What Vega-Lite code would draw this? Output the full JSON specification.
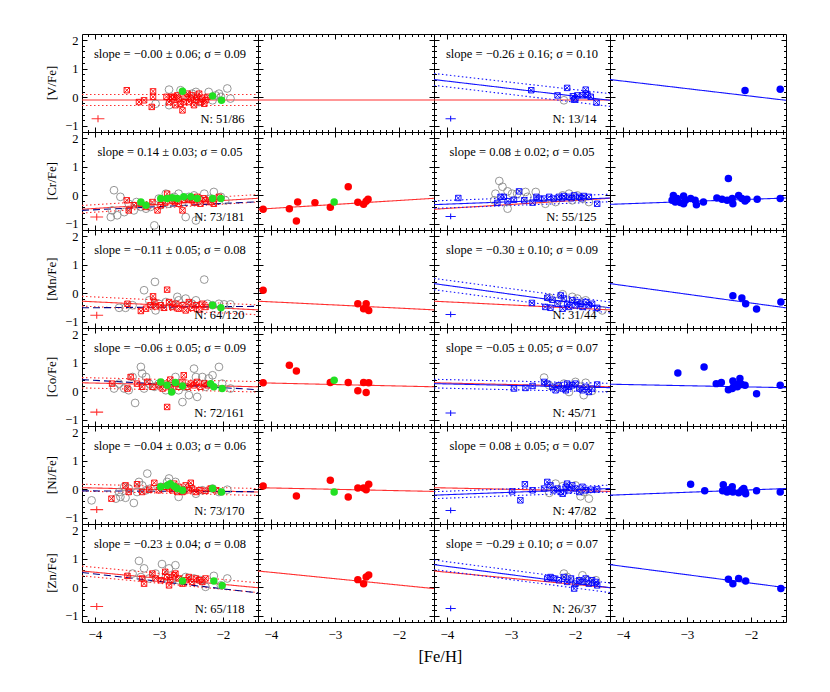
{
  "$schema": "https://vega.github.io/schema/vega-lite/v6.json",
  "padding": {"left": 45, "top": 33, "right": 5, "bottom": 5},
  "data": {"values": [
    {"r":"V","c":1,"t":"l","g":"rb","x":-4.2,"y":0.1,"x2":-1.45,"y2":0.1},
    {"r":"V","c":1,"t":"l","g":"rb","x":-4.2,"y":-0.28,"x2":-1.45,"y2":-0.28},
    {"r":"V","c":1,"t":"l","g":"rf","x":-4.2,"y":-0.09,"x2":-1.45,"y2":-0.09},
    {"r":"V","c":1,"t":"l","g":"rf","x":-4.05,"y":-0.74,"x2":-3.85,"y2":-0.74},
    {"r":"V","c":1,"t":"l","g":"rf","x":-3.95,"y":-0.86,"x2":-3.95,"y2":-0.62},
    {"r":"V","c":1,"t":"s","x":-2.825,"y":1.37,"s":"slope = −0.00 ± 0.06; σ = 0.09"},
    {"r":"V","c":1,"t":"n","x":-1.66,"y":-0.9,"s":"N: 51/86"},
    {"r":"V","c":1,"t":"p","g":"grey","x":-2.84,"y":0.27},
    {"r":"V","c":1,"t":"p","g":"grey","x":-2.66,"y":0.25},
    {"r":"V","c":1,"t":"p","g":"grey","x":-2.48,"y":0.13},
    {"r":"V","c":1,"t":"p","g":"grey","x":-2.06,"y":0.13},
    {"r":"V","c":1,"t":"p","g":"grey","x":-1.93,"y":0.31},
    {"r":"V","c":1,"t":"p","g":"grey","x":-1.88,"y":-0.04},
    {"r":"V","c":1,"t":"p","g":"grey","x":-2.03,"y":0.02},
    {"r":"V","c":1,"t":"p","g":"grey","x":-2.16,"y":-0.1},
    {"r":"V","c":1,"t":"p","g":"grey","x":-2.11,"y":0.07},
    {"r":"V","c":1,"t":"p","g":"grey","x":-3.05,"y":-0.22},
    {"r":"V","c":1,"t":"p","g":"grey","x":-2.84,"y":-0.27},
    {"r":"V","c":1,"t":"p","g":"grey","x":-2.42,"y":0.19},
    {"r":"V","c":1,"t":"p","g":"grey","x":-2.22,"y":0.19},
    {"r":"V","c":1,"t":"p","g":"grey","x":-2.61,"y":0.07},
    {"r":"V","c":1,"t":"p","g":"grey","x":-2.37,"y":-0.16},
    {"r":"V","c":1,"t":"p","g":"rx","x":-3.5,"y":0.25},
    {"r":"V","c":1,"t":"p","g":"rx","x":-3.31,"y":-0.16},
    {"r":"V","c":1,"t":"p","g":"rx","x":-3.23,"y":-0.1},
    {"r":"V","c":1,"t":"p","g":"rx","x":-3.09,"y":0.21},
    {"r":"V","c":1,"t":"p","g":"rx","x":-3.09,"y":0.02},
    {"r":"V","c":1,"t":"p","g":"rx","x":-3.11,"y":-0.33},
    {"r":"V","c":1,"t":"p","g":"rx","x":-2.88,"y":0.02},
    {"r":"V","c":1,"t":"p","g":"rx","x":-2.84,"y":-0.16},
    {"r":"V","c":1,"t":"p","g":"rx","x":-2.79,"y":-0.04},
    {"r":"V","c":1,"t":"p","g":"rx","x":-2.74,"y":-0.27},
    {"r":"V","c":1,"t":"p","g":"rx","x":-2.63,"y":-0.45},
    {"r":"V","c":1,"t":"p","g":"rx","x":-2.69,"y":-0.04},
    {"r":"V","c":1,"t":"p","g":"rx","x":-2.58,"y":0.02},
    {"r":"V","c":1,"t":"p","g":"rx","x":-2.53,"y":-0.16},
    {"r":"V","c":1,"t":"p","g":"rx","x":-2.48,"y":0.07},
    {"r":"V","c":1,"t":"p","g":"rx","x":-2.42,"y":-0.1},
    {"r":"V","c":1,"t":"p","g":"rx","x":-2.37,"y":0.13},
    {"r":"V","c":1,"t":"p","g":"rx","x":-2.32,"y":-0.04},
    {"r":"V","c":1,"t":"p","g":"rx","x":-2.29,"y":-0.22},
    {"r":"V","c":1,"t":"p","g":"rx","x":-2.24,"y":0.02},
    {"r":"V","c":1,"t":"p","g":"rx","x":-2.35,"y":-0.16},
    {"r":"V","c":1,"t":"p","g":"rx","x":-2.45,"y":-0.27},
    {"r":"V","c":1,"t":"p","g":"rx","x":-2.4,"y":0.02},
    {"r":"V","c":1,"t":"p","g":"rx","x":-2.5,"y":-0.04},
    {"r":"V","c":1,"t":"p","g":"rx","x":-2.61,"y":-0.16},
    {"r":"V","c":1,"t":"p","g":"rx","x":-2.66,"y":-0.22},
    {"r":"V","c":1,"t":"p","g":"rx","x":-2.55,"y":0.13},
    {"r":"V","c":1,"t":"p","g":"rx","x":-2.27,"y":-0.1},
    {"r":"V","c":1,"t":"p","g":"rx","x":-2.71,"y":0.07},
    {"r":"V","c":1,"t":"p","g":"rx","x":-2.76,"y":0.02},
    {"r":"V","c":1,"t":"p","g":"rx","x":-2.81,"y":0.02},
    {"r":"V","c":1,"t":"p","g":"green","x":-2.63,"y":0.21},
    {"r":"V","c":1,"t":"p","g":"green","x":-2.16,"y":0.05},
    {"r":"V","c":1,"t":"p","g":"green","x":-2.02,"y":-0.1},

    {"r":"V","c":2,"t":"l","g":"rf","x":-4.2,"y":-0.09,"x2":-1.45,"y2":-0.09},

    {"r":"V","c":3,"t":"l","g":"rf","x":-4.2,"y":-0.09,"x2":-1.45,"y2":-0.09},
    {"r":"V","c":3,"t":"l","g":"bb","x":-4.2,"y":0.83,"x2":-1.45,"y2":0.13},
    {"r":"V","c":3,"t":"l","g":"bb","x":-4.2,"y":0.42,"x2":-1.45,"y2":-0.31},
    {"r":"V","c":3,"t":"l","g":"bf","x":-4.2,"y":0.62,"x2":-1.45,"y2":-0.1},
    {"r":"V","c":3,"t":"l","g":"bf","x":-4.02,"y":-0.74,"x2":-3.86,"y2":-0.74},
    {"r":"V","c":3,"t":"l","g":"bf","x":-3.94,"y":-0.84,"x2":-3.94,"y2":-0.64},
    {"r":"V","c":3,"t":"s","x":-2.825,"y":1.37,"s":"slope = −0.26 ± 0.16; σ = 0.10"},
    {"r":"V","c":3,"t":"n","x":-1.66,"y":-0.9,"s":"N: 13/14"},
    {"r":"V","c":3,"t":"p","g":"grey","x":-2.17,"y":-0.1},
    {"r":"V","c":3,"t":"p","g":"bx","x":-2.68,"y":0.25},
    {"r":"V","c":3,"t":"p","g":"bx","x":-2.27,"y":0.07},
    {"r":"V","c":3,"t":"p","g":"bx","x":-2.12,"y":0.33},
    {"r":"V","c":3,"t":"p","g":"bx","x":-2.03,"y":0.04},
    {"r":"V","c":3,"t":"p","g":"bx","x":-1.99,"y":-0.04},
    {"r":"V","c":3,"t":"p","g":"bx","x":-1.88,"y":0.07},
    {"r":"V","c":3,"t":"p","g":"bx","x":-1.83,"y":0.27},
    {"r":"V","c":3,"t":"p","g":"bx","x":-1.8,"y":0.07},
    {"r":"V","c":3,"t":"p","g":"bx","x":-1.75,"y":0.02},
    {"r":"V","c":3,"t":"p","g":"bx","x":-1.66,"y":-0.18},
    {"r":"V","c":3,"t":"p","g":"bx","x":-1.96,"y":0.07},
    {"r":"V","c":3,"t":"p","g":"bx","x":-1.83,"y":0.13},
    {"r":"V","c":3,"t":"p","g":"bx","x":-2.01,"y":-0.08},

    {"r":"V","c":4,"t":"l","g":"bf","x":-4.2,"y":0.62,"x2":-1.45,"y2":-0.1},
    {"r":"V","c":4,"t":"p","g":"bd","x":-2.09,"y":0.24},
    {"r":"V","c":4,"t":"p","g":"bd","x":-1.54,"y":0.28},

    {"r":"Cr","c":1,"t":"l","g":"rb","x":-4.2,"y":-0.35,"x2":-1.45,"y2":0.03},
    {"r":"Cr","c":1,"t":"l","g":"rb","x":-4.2,"y":-0.61,"x2":-1.45,"y2":-0.23},
    {"r":"Cr","c":1,"t":"l","g":"rf","x":-4.2,"y":-0.48,"x2":-1.45,"y2":-0.1},
    {"r":"Cr","c":1,"t":"l","g":"nv","x":-4.2,"y":-0.52,"x2":-1.45,"y2":-0.22},
    {"r":"Cr","c":1,"t":"l","g":"rf","x":-4.07,"y":-0.75,"x2":-3.87,"y2":-0.75},
    {"r":"Cr","c":1,"t":"l","g":"rf","x":-3.97,"y":-0.87,"x2":-3.97,"y2":-0.63},
    {"r":"Cr","c":1,"t":"s","x":-2.825,"y":1.37,"s":"slope = 0.14 ± 0.03; σ = 0.05"},
    {"r":"Cr","c":1,"t":"n","x":-1.66,"y":-0.9,"s":"N: 73/181"},
    {"r":"Cr","c":1,"t":"p","g":"grey","x":-3.7,"y":0.18},
    {"r":"Cr","c":1,"t":"p","g":"grey","x":-3.6,"y":-0.05},
    {"r":"Cr","c":1,"t":"p","g":"grey","x":-3.73,"y":-0.52},
    {"r":"Cr","c":1,"t":"p","g":"grey","x":-3.75,"y":-0.75},
    {"r":"Cr","c":1,"t":"p","g":"grey","x":-3.65,"y":-0.69},
    {"r":"Cr","c":1,"t":"p","g":"grey","x":-3.54,"y":-0.58},
    {"r":"Cr","c":1,"t":"p","g":"grey","x":-3.47,"y":-0.29},
    {"r":"Cr","c":1,"t":"p","g":"grey","x":-3.39,"y":-0.52},
    {"r":"Cr","c":1,"t":"p","g":"grey","x":-3.2,"y":-0.46},
    {"r":"Cr","c":1,"t":"p","g":"grey","x":-3.13,"y":-0.4},
    {"r":"Cr","c":1,"t":"p","g":"grey","x":-3.07,"y":-1.04},
    {"r":"Cr","c":1,"t":"p","g":"grey","x":-3.0,"y":-0.11},
    {"r":"Cr","c":1,"t":"p","g":"grey","x":-2.89,"y":0.06},
    {"r":"Cr","c":1,"t":"p","g":"grey","x":-2.84,"y":-0.29},
    {"r":"Cr","c":1,"t":"p","g":"grey","x":-2.76,"y":-0.05},
    {"r":"Cr","c":1,"t":"p","g":"grey","x":-2.69,"y":0.06},
    {"r":"Cr","c":1,"t":"p","g":"grey","x":-2.58,"y":-0.75},
    {"r":"Cr","c":1,"t":"p","g":"grey","x":-2.53,"y":-0.05},
    {"r":"Cr","c":1,"t":"p","g":"grey","x":-2.42,"y":-0.87},
    {"r":"Cr","c":1,"t":"p","g":"grey","x":-2.45,"y":0.0},
    {"r":"Cr","c":1,"t":"p","g":"grey","x":-2.29,"y":0.06},
    {"r":"Cr","c":1,"t":"p","g":"grey","x":-2.14,"y":0.12},
    {"r":"Cr","c":1,"t":"p","g":"grey","x":-2.19,"y":-0.11},
    {"r":"Cr","c":1,"t":"p","g":"grey","x":-2.03,"y":-0.05},
    {"r":"Cr","c":1,"t":"p","g":"grey","x":-1.96,"y":-0.17},
    {"r":"Cr","c":1,"t":"p","g":"grey","x":-3.28,"y":-0.4},
    {"r":"Cr","c":1,"t":"p","g":"grey","x":-2.97,"y":-0.34},
    {"r":"Cr","c":1,"t":"p","g":"grey","x":-2.63,"y":-0.23},
    {"r":"Cr","c":1,"t":"p","g":"grey","x":-2.35,"y":-0.17},
    {"r":"Cr","c":1,"t":"p","g":"grey","x":-3.35,"y":-0.23},
    {"r":"Cr","c":1,"t":"p","g":"rx","x":-3.5,"y":-0.17},
    {"r":"Cr","c":1,"t":"p","g":"rx","x":-3.39,"y":-0.34},
    {"r":"Cr","c":1,"t":"p","g":"rx","x":-3.28,"y":-0.29},
    {"r":"Cr","c":1,"t":"p","g":"rx","x":-3.2,"y":-0.4},
    {"r":"Cr","c":1,"t":"p","g":"rx","x":-3.1,"y":-0.23},
    {"r":"Cr","c":1,"t":"p","g":"rx","x":-2.97,"y":-0.34},
    {"r":"Cr","c":1,"t":"p","g":"rx","x":-2.87,"y":0.06},
    {"r":"Cr","c":1,"t":"p","g":"rx","x":-2.79,"y":-0.17},
    {"r":"Cr","c":1,"t":"p","g":"rx","x":-2.69,"y":-0.29},
    {"r":"Cr","c":1,"t":"p","g":"rx","x":-2.63,"y":-0.52},
    {"r":"Cr","c":1,"t":"p","g":"rx","x":-2.55,"y":-0.11},
    {"r":"Cr","c":1,"t":"p","g":"rx","x":-2.48,"y":-0.17},
    {"r":"Cr","c":1,"t":"p","g":"rx","x":-2.4,"y":-0.05},
    {"r":"Cr","c":1,"t":"p","g":"rx","x":-2.35,"y":-0.29},
    {"r":"Cr","c":1,"t":"p","g":"rx","x":-2.27,"y":-0.17},
    {"r":"Cr","c":1,"t":"p","g":"rx","x":-2.19,"y":-0.23},
    {"r":"Cr","c":1,"t":"p","g":"rx","x":-2.14,"y":-0.29},
    {"r":"Cr","c":1,"t":"p","g":"rx","x":-2.06,"y":-0.05},
    {"r":"Cr","c":1,"t":"p","g":"rx","x":-3.02,"y":-0.52},
    {"r":"Cr","c":1,"t":"p","g":"rx","x":-3.47,"y":-0.52},
    {"r":"Cr","c":1,"t":"p","g":"rx","x":-2.6,"y":-0.15},
    {"r":"Cr","c":1,"t":"p","g":"rx","x":-2.45,"y":-0.25},
    {"r":"Cr","c":1,"t":"p","g":"rx","x":-2.75,"y":-0.23},
    {"r":"Cr","c":1,"t":"p","g":"rx","x":-2.3,"y":-0.1},
    {"r":"Cr","c":1,"t":"p","g":"rx","x":-2.9,"y":-0.25},
    {"r":"Cr","c":1,"t":"p","g":"green","x":-3.28,"y":-0.23},
    {"r":"Cr","c":1,"t":"p","g":"green","x":-2.97,"y":-0.11},
    {"r":"Cr","c":1,"t":"p","g":"green","x":-2.87,"y":-0.11},
    {"r":"Cr","c":1,"t":"p","g":"green","x":-2.79,"y":-0.08},
    {"r":"Cr","c":1,"t":"p","g":"green","x":-2.71,"y":-0.11},
    {"r":"Cr","c":1,"t":"p","g":"green","x":-2.61,"y":-0.05},
    {"r":"Cr","c":1,"t":"p","g":"green","x":-2.5,"y":-0.05},
    {"r":"Cr","c":1,"t":"p","g":"green","x":-2.4,"y":-0.11},
    {"r":"Cr","c":1,"t":"p","g":"green","x":-2.16,"y":-0.11},
    {"r":"Cr","c":1,"t":"p","g":"green","x":-2.03,"y":-0.11},
    {"r":"Cr","c":1,"t":"p","g":"green","x":-3.2,"y":-0.34},

    {"r":"Cr","c":2,"t":"l","g":"rf","x":-4.2,"y":-0.48,"x2":-1.45,"y2":-0.1},
    {"r":"Cr","c":2,"t":"p","g":"rd","x":-4.12,"y":-0.48},
    {"r":"Cr","c":2,"t":"p","g":"rd","x":-3.71,"y":-0.46},
    {"r":"Cr","c":2,"t":"p","g":"rd","x":-3.6,"y":-0.89},
    {"r":"Cr","c":2,"t":"p","g":"rd","x":-3.58,"y":-0.23},
    {"r":"Cr","c":2,"t":"p","g":"rd","x":-3.31,"y":-0.25},
    {"r":"Cr","c":2,"t":"p","g":"rd","x":-3.07,"y":-0.41},
    {"r":"Cr","c":2,"t":"p","g":"rd","x":-2.79,"y":0.3},
    {"r":"Cr","c":2,"t":"p","g":"rd","x":-2.64,"y":-0.24},
    {"r":"Cr","c":2,"t":"p","g":"rd","x":-2.55,"y":-0.31},
    {"r":"Cr","c":2,"t":"p","g":"rd","x":-2.51,"y":-0.2},
    {"r":"Cr","c":2,"t":"p","g":"rd","x":-2.48,"y":-0.13},
    {"r":"Cr","c":2,"t":"p","g":"green","x":-3.01,"y":-0.23},

    {"r":"Cr","c":3,"t":"l","g":"rf","x":-4.2,"y":-0.48,"x2":-1.45,"y2":-0.1},
    {"r":"Cr","c":3,"t":"l","g":"bb","x":-4.2,"y":-0.19,"x2":-1.45,"y2":0.04},
    {"r":"Cr","c":3,"t":"l","g":"bb","x":-4.2,"y":-0.45,"x2":-1.45,"y2":-0.22},
    {"r":"Cr","c":3,"t":"l","g":"bf","x":-4.2,"y":-0.32,"x2":-1.45,"y2":-0.09},
    {"r":"Cr","c":3,"t":"l","g":"bf","x":-4.02,"y":-0.73,"x2":-3.86,"y2":-0.73},
    {"r":"Cr","c":3,"t":"l","g":"bf","x":-3.94,"y":-0.83,"x2":-3.94,"y2":-0.63},
    {"r":"Cr","c":3,"t":"s","x":-2.825,"y":1.37,"s":"slope = 0.08 ± 0.02; σ = 0.05"},
    {"r":"Cr","c":3,"t":"n","x":-1.66,"y":-0.9,"s":"N: 55/125"},
    {"r":"Cr","c":3,"t":"p","g":"grey","x":-3.18,"y":0.5},
    {"r":"Cr","c":3,"t":"p","g":"grey","x":-3.24,"y":0.06},
    {"r":"Cr","c":3,"t":"p","g":"grey","x":-3.26,"y":-0.17},
    {"r":"Cr","c":3,"t":"p","g":"grey","x":-3.13,"y":0.3},
    {"r":"Cr","c":3,"t":"p","g":"grey","x":-3.05,"y":0.14},
    {"r":"Cr","c":3,"t":"p","g":"grey","x":-2.98,"y":0.06},
    {"r":"Cr","c":3,"t":"p","g":"grey","x":-3.05,"y":-0.46},
    {"r":"Cr","c":3,"t":"p","g":"grey","x":-2.9,"y":0.06},
    {"r":"Cr","c":3,"t":"p","g":"grey","x":-2.77,"y":0.12},
    {"r":"Cr","c":3,"t":"p","g":"grey","x":-2.74,"y":-0.05},
    {"r":"Cr","c":3,"t":"p","g":"grey","x":-2.61,"y":0.12},
    {"r":"Cr","c":3,"t":"p","g":"grey","x":-2.46,"y":-0.29},
    {"r":"Cr","c":3,"t":"p","g":"grey","x":-2.3,"y":-0.23},
    {"r":"Cr","c":3,"t":"p","g":"grey","x":-2.19,"y":0.0},
    {"r":"Cr","c":3,"t":"p","g":"grey","x":-2.09,"y":0.06},
    {"r":"Cr","c":3,"t":"p","g":"grey","x":-1.96,"y":0.0},
    {"r":"Cr","c":3,"t":"p","g":"grey","x":-1.88,"y":-0.11},
    {"r":"Cr","c":3,"t":"p","g":"grey","x":-1.78,"y":-0.23},
    {"r":"Cr","c":3,"t":"p","g":"grey","x":-2.04,"y":-0.17},
    {"r":"Cr","c":3,"t":"p","g":"bx","x":-3.82,"y":-0.09},
    {"r":"Cr","c":3,"t":"p","g":"bx","x":-3.21,"y":-0.26},
    {"r":"Cr","c":3,"t":"p","g":"bx","x":-3.11,"y":-0.05},
    {"r":"Cr","c":3,"t":"p","g":"bx","x":-2.87,"y":0.14},
    {"r":"Cr","c":3,"t":"p","g":"bx","x":-2.95,"y":-0.15},
    {"r":"Cr","c":3,"t":"p","g":"bx","x":-2.79,"y":-0.17},
    {"r":"Cr","c":3,"t":"p","g":"bx","x":-2.66,"y":-0.25},
    {"r":"Cr","c":3,"t":"p","g":"bx","x":-2.48,"y":-0.11},
    {"r":"Cr","c":3,"t":"p","g":"bx","x":-2.4,"y":-0.05},
    {"r":"Cr","c":3,"t":"p","g":"bx","x":-2.33,"y":-0.11},
    {"r":"Cr","c":3,"t":"p","g":"bx","x":-2.25,"y":-0.05},
    {"r":"Cr","c":3,"t":"p","g":"bx","x":-2.17,"y":-0.02},
    {"r":"Cr","c":3,"t":"p","g":"bx","x":-2.09,"y":-0.05},
    {"r":"Cr","c":3,"t":"p","g":"bx","x":-2.01,"y":0.0},
    {"r":"Cr","c":3,"t":"p","g":"bx","x":-1.93,"y":-0.05},
    {"r":"Cr","c":3,"t":"p","g":"bx","x":-1.86,"y":-0.02},
    {"r":"Cr","c":3,"t":"p","g":"bx","x":-1.78,"y":-0.05},
    {"r":"Cr","c":3,"t":"p","g":"bx","x":-1.65,"y":-0.29},
    {"r":"Cr","c":3,"t":"p","g":"bx","x":-2.56,"y":-0.11},
    {"r":"Cr","c":3,"t":"p","g":"bx","x":-3.16,"y":-0.05},
    {"r":"Cr","c":3,"t":"p","g":"bx","x":-2.2,"y":-0.1},
    {"r":"Cr","c":3,"t":"p","g":"bx","x":-2.05,"y":-0.1},
    {"r":"Cr","c":3,"t":"p","g":"bx","x":-1.9,"y":-0.1},
    {"r":"Cr","c":3,"t":"p","g":"bx","x":-2.6,"y":-0.05},
    {"r":"Cr","c":3,"t":"p","g":"bx","x":-3.05,"y":-0.2},

    {"r":"Cr","c":4,"t":"l","g":"bf","x":-4.2,"y":-0.31,"x2":-1.45,"y2":-0.09},
    {"r":"Cr","c":4,"t":"p","g":"bd","x":-3.21,"y":0.0},
    {"r":"Cr","c":4,"t":"p","g":"bd","x":-3.23,"y":-0.17},
    {"r":"Cr","c":4,"t":"p","g":"bd","x":-3.18,"y":-0.23},
    {"r":"Cr","c":4,"t":"p","g":"bd","x":-3.05,"y":-0.02},
    {"r":"Cr","c":4,"t":"p","g":"bd","x":-3.05,"y":-0.29},
    {"r":"Cr","c":4,"t":"p","g":"bd","x":-2.94,"y":-0.11},
    {"r":"Cr","c":4,"t":"p","g":"bd","x":-2.87,"y":-0.17},
    {"r":"Cr","c":4,"t":"p","g":"bd","x":-2.85,"y":-0.32},
    {"r":"Cr","c":4,"t":"p","g":"bd","x":-2.74,"y":-0.23},
    {"r":"Cr","c":4,"t":"p","g":"bd","x":-2.53,"y":-0.09},
    {"r":"Cr","c":4,"t":"p","g":"bd","x":-2.45,"y":-0.13},
    {"r":"Cr","c":4,"t":"p","g":"bd","x":-2.37,"y":-0.17},
    {"r":"Cr","c":4,"t":"p","g":"bd","x":-2.35,"y":0.59},
    {"r":"Cr","c":4,"t":"p","g":"bd","x":-2.29,"y":-0.11},
    {"r":"Cr","c":4,"t":"p","g":"bd","x":-2.28,"y":-0.29},
    {"r":"Cr","c":4,"t":"p","g":"bd","x":-2.19,"y":0.0},
    {"r":"Cr","c":4,"t":"p","g":"bd","x":-2.14,"y":-0.11},
    {"r":"Cr","c":4,"t":"p","g":"bd","x":-2.09,"y":-0.19},
    {"r":"Cr","c":4,"t":"p","g":"bd","x":-2.06,"y":-0.13},
    {"r":"Cr","c":4,"t":"p","g":"bd","x":-1.9,"y":-0.13},
    {"r":"Cr","c":4,"t":"p","g":"bd","x":-1.54,"y":-0.11},
    {"r":"Cr","c":4,"t":"p","g":"bd","x":-3.02,"y":-0.17},
    {"r":"Cr","c":4,"t":"p","g":"bd","x":-3.15,"y":-0.11},
    {"r":"Cr","c":4,"t":"p","g":"bd","x":-3.1,"y":-0.25},

    {"r":"Mn","c":1,"t":"l","g":"rb","x":-4.2,"y":-0.1,"x2":-1.45,"y2":-0.4},
    {"r":"Mn","c":1,"t":"l","g":"rb","x":-4.2,"y":-0.44,"x2":-1.45,"y2":-0.74},
    {"r":"Mn","c":1,"t":"l","g":"rf","x":-4.2,"y":-0.27,"x2":-1.45,"y2":-0.57},
    {"r":"Mn","c":1,"t":"l","g":"nv","x":-4.2,"y":-0.5,"x2":-1.45,"y2":-0.45},
    {"r":"Mn","c":1,"t":"l","g":"rf","x":-4.07,"y":-0.76,"x2":-3.87,"y2":-0.76},
    {"r":"Mn","c":1,"t":"l","g":"rf","x":-3.97,"y":-0.88,"x2":-3.97,"y2":-0.64},
    {"r":"Mn","c":1,"t":"s","x":-2.825,"y":1.37,"s":"slope = −0.11 ± 0.05; σ = 0.08"},
    {"r":"Mn","c":1,"t":"n","x":-1.66,"y":-0.9,"s":"N: 64/120"},
    {"r":"Mn","c":1,"t":"p","g":"grey","x":-3.62,"y":-0.5},
    {"r":"Mn","c":1,"t":"p","g":"grey","x":-3.23,"y":0.11},
    {"r":"Mn","c":1,"t":"p","g":"grey","x":-3.06,"y":0.4},
    {"r":"Mn","c":1,"t":"p","g":"grey","x":-3.15,"y":-0.24},
    {"r":"Mn","c":1,"t":"p","g":"grey","x":-3.0,"y":-0.36},
    {"r":"Mn","c":1,"t":"p","g":"grey","x":-2.89,"y":-0.3},
    {"r":"Mn","c":1,"t":"p","g":"grey","x":-2.79,"y":-0.41},
    {"r":"Mn","c":1,"t":"p","g":"grey","x":-2.71,"y":-0.12},
    {"r":"Mn","c":1,"t":"p","g":"grey","x":-2.69,"y":-0.24},
    {"r":"Mn","c":1,"t":"p","g":"grey","x":-2.58,"y":-0.18},
    {"r":"Mn","c":1,"t":"p","g":"grey","x":-2.48,"y":-0.36},
    {"r":"Mn","c":1,"t":"p","g":"grey","x":-2.42,"y":-0.24},
    {"r":"Mn","c":1,"t":"p","g":"grey","x":-2.29,"y":0.48},
    {"r":"Mn","c":1,"t":"p","g":"grey","x":-2.24,"y":-0.36},
    {"r":"Mn","c":1,"t":"p","g":"grey","x":-2.16,"y":-0.41},
    {"r":"Mn","c":1,"t":"p","g":"grey","x":-2.06,"y":-0.36},
    {"r":"Mn","c":1,"t":"p","g":"grey","x":-1.98,"y":-0.38},
    {"r":"Mn","c":1,"t":"p","g":"grey","x":-1.88,"y":-0.38},
    {"r":"Mn","c":1,"t":"p","g":"grey","x":-3.05,"y":-0.59},
    {"r":"Mn","c":1,"t":"p","g":"grey","x":-3.41,"y":-0.41},
    {"r":"Mn","c":1,"t":"p","g":"grey","x":-3.52,"y":-0.5},
    {"r":"Mn","c":1,"t":"p","g":"rx","x":-3.49,"y":-0.36},
    {"r":"Mn","c":1,"t":"p","g":"rx","x":-3.28,"y":-0.61},
    {"r":"Mn","c":1,"t":"p","g":"rx","x":-3.2,"y":-0.53},
    {"r":"Mn","c":1,"t":"p","g":"rx","x":-3.09,"y":-0.1},
    {"r":"Mn","c":1,"t":"p","g":"rx","x":-3.07,"y":-0.3},
    {"r":"Mn","c":1,"t":"p","g":"rx","x":-2.87,"y":0.13},
    {"r":"Mn","c":1,"t":"p","g":"rx","x":-2.84,"y":-0.3},
    {"r":"Mn","c":1,"t":"p","g":"rx","x":-2.79,"y":-0.47},
    {"r":"Mn","c":1,"t":"p","g":"rx","x":-2.74,"y":-0.36},
    {"r":"Mn","c":1,"t":"p","g":"rx","x":-2.69,"y":-0.53},
    {"r":"Mn","c":1,"t":"p","g":"rx","x":-2.63,"y":-0.41},
    {"r":"Mn","c":1,"t":"p","g":"rx","x":-2.58,"y":-0.59},
    {"r":"Mn","c":1,"t":"p","g":"rx","x":-2.53,"y":-0.3},
    {"r":"Mn","c":1,"t":"p","g":"rx","x":-2.48,"y":-0.5},
    {"r":"Mn","c":1,"t":"p","g":"rx","x":-2.42,"y":-0.41},
    {"r":"Mn","c":1,"t":"p","g":"rx","x":-2.37,"y":-0.56},
    {"r":"Mn","c":1,"t":"p","g":"rx","x":-2.32,"y":-0.36},
    {"r":"Mn","c":1,"t":"p","g":"rx","x":-2.27,"y":-0.47},
    {"r":"Mn","c":1,"t":"p","g":"rx","x":-2.97,"y":-0.41},
    {"r":"Mn","c":1,"t":"p","g":"rx","x":-2.92,"y":-0.5},
    {"r":"Mn","c":1,"t":"p","g":"rx","x":-3.05,"y":-0.45},
    {"r":"Mn","c":1,"t":"p","g":"rx","x":-3.13,"y":-0.41},
    {"r":"Mn","c":1,"t":"p","g":"green","x":-2.16,"y":-0.41},
    {"r":"Mn","c":1,"t":"p","g":"green","x":-2.03,"y":-0.5},

    {"r":"Mn","c":2,"t":"l","g":"rf","x":-4.2,"y":-0.27,"x2":-1.45,"y2":-0.57},
    {"r":"Mn","c":2,"t":"p","g":"rd","x":-4.12,"y":0.11},
    {"r":"Mn","c":2,"t":"p","g":"rd","x":-2.64,"y":-0.36},
    {"r":"Mn","c":2,"t":"p","g":"rd","x":-2.51,"y":-0.36},
    {"r":"Mn","c":2,"t":"p","g":"rd","x":-2.55,"y":-0.53},
    {"r":"Mn","c":2,"t":"p","g":"rd","x":-2.47,"y":-0.59},

    {"r":"Mn","c":3,"t":"l","g":"rf","x":-4.2,"y":-0.27,"x2":-1.45,"y2":-0.57},
    {"r":"Mn","c":3,"t":"l","g":"bb","x":-4.2,"y":0.52,"x2":-1.45,"y2":-0.3},
    {"r":"Mn","c":3,"t":"l","g":"bb","x":-4.2,"y":0.13,"x2":-1.45,"y2":-0.68},
    {"r":"Mn","c":3,"t":"l","g":"bf","x":-4.2,"y":0.34,"x2":-1.45,"y2":-0.5},
    {"r":"Mn","c":3,"t":"l","g":"bf","x":-4.02,"y":-0.73,"x2":-3.86,"y2":-0.73},
    {"r":"Mn","c":3,"t":"l","g":"bf","x":-3.94,"y":-0.83,"x2":-3.94,"y2":-0.63},
    {"r":"Mn","c":3,"t":"s","x":-2.825,"y":1.37,"s":"slope = −0.30 ± 0.10; σ = 0.09"},
    {"r":"Mn","c":3,"t":"n","x":-1.66,"y":-0.9,"s":"N: 31/44"},
    {"r":"Mn","c":3,"t":"p","g":"grey","x":-2.19,"y":-0.03},
    {"r":"Mn","c":3,"t":"p","g":"grey","x":-2.25,"y":-0.24},
    {"r":"Mn","c":3,"t":"p","g":"grey","x":-2.04,"y":-0.12},
    {"r":"Mn","c":3,"t":"p","g":"grey","x":-1.96,"y":-0.18},
    {"r":"Mn","c":3,"t":"p","g":"grey","x":-1.83,"y":-0.24},
    {"r":"Mn","c":3,"t":"p","g":"grey","x":-1.57,"y":-0.59},
    {"r":"Mn","c":3,"t":"p","g":"grey","x":-2.4,"y":-0.15},
    {"r":"Mn","c":3,"t":"p","g":"bx","x":-2.67,"y":-0.33},
    {"r":"Mn","c":3,"t":"p","g":"bx","x":-2.43,"y":-0.15},
    {"r":"Mn","c":3,"t":"p","g":"bx","x":-2.35,"y":-0.22},
    {"r":"Mn","c":3,"t":"p","g":"bx","x":-2.38,"y":-0.5},
    {"r":"Mn","c":3,"t":"p","g":"bx","x":-2.22,"y":-0.07},
    {"r":"Mn","c":3,"t":"p","g":"bx","x":-2.17,"y":-0.18},
    {"r":"Mn","c":3,"t":"p","g":"bx","x":-2.12,"y":-0.36},
    {"r":"Mn","c":3,"t":"p","g":"bx","x":-2.09,"y":-0.47},
    {"r":"Mn","c":3,"t":"p","g":"bx","x":-2.04,"y":-0.24},
    {"r":"Mn","c":3,"t":"p","g":"bx","x":-1.99,"y":-0.41},
    {"r":"Mn","c":3,"t":"p","g":"bx","x":-1.96,"y":-0.3},
    {"r":"Mn","c":3,"t":"p","g":"bx","x":-1.91,"y":-0.36},
    {"r":"Mn","c":3,"t":"p","g":"bx","x":-1.88,"y":-0.47},
    {"r":"Mn","c":3,"t":"p","g":"bx","x":-1.83,"y":-0.3},
    {"r":"Mn","c":3,"t":"p","g":"bx","x":-1.78,"y":-0.41},
    {"r":"Mn","c":3,"t":"p","g":"bx","x":-1.73,"y":-0.36},
    {"r":"Mn","c":3,"t":"p","g":"bx","x":-1.65,"y":-0.5},
    {"r":"Mn","c":3,"t":"p","g":"bx","x":-2.27,"y":-0.36},
    {"r":"Mn","c":3,"t":"p","g":"bx","x":-2.19,"y":-0.53},
    {"r":"Mn","c":3,"t":"p","g":"bx","x":-2.46,"y":-0.47},

    {"r":"Mn","c":4,"t":"l","g":"bf","x":-4.2,"y":0.34,"x2":-1.45,"y2":-0.5},
    {"r":"Mn","c":4,"t":"p","g":"bd","x":-2.28,"y":-0.08},
    {"r":"Mn","c":4,"t":"p","g":"bd","x":-2.14,"y":-0.16},
    {"r":"Mn","c":4,"t":"p","g":"bd","x":-2.08,"y":-0.36},
    {"r":"Mn","c":4,"t":"p","g":"bd","x":-1.91,"y":-0.54},
    {"r":"Mn","c":4,"t":"p","g":"bd","x":-1.53,"y":-0.3},

    {"r":"Co","c":1,"t":"l","g":"rb","x":-4.2,"y":0.48,"x2":-1.45,"y2":0.34},
    {"r":"Co","c":1,"t":"l","g":"rb","x":-4.2,"y":0.12,"x2":-1.45,"y2":-0.02},
    {"r":"Co","c":1,"t":"l","g":"rf","x":-4.2,"y":0.3,"x2":-1.45,"y2":0.16},
    {"r":"Co","c":1,"t":"l","g":"nv","x":-4.2,"y":0.41,"x2":-1.45,"y2":0.06},
    {"r":"Co","c":1,"t":"l","g":"rf","x":-4.07,"y":-0.72,"x2":-3.87,"y2":-0.72},
    {"r":"Co","c":1,"t":"l","g":"rf","x":-3.97,"y":-0.84,"x2":-3.97,"y2":-0.6},
    {"r":"Co","c":1,"t":"s","x":-2.825,"y":1.37,"s":"slope = −0.06 ± 0.05; σ = 0.09"},
    {"r":"Co","c":1,"t":"n","x":-1.66,"y":-0.9,"s":"N: 72/161"},
    {"r":"Co","c":1,"t":"p","g":"grey","x":-3.7,"y":0.1},
    {"r":"Co","c":1,"t":"p","g":"grey","x":-3.62,"y":0.27},
    {"r":"Co","c":1,"t":"p","g":"grey","x":-3.54,"y":0.1},
    {"r":"Co","c":1,"t":"p","g":"grey","x":-3.47,"y":0.04},
    {"r":"Co","c":1,"t":"p","g":"grey","x":-3.41,"y":0.5},
    {"r":"Co","c":1,"t":"p","g":"grey","x":-3.37,"y":-0.4},
    {"r":"Co","c":1,"t":"p","g":"grey","x":-3.28,"y":0.85},
    {"r":"Co","c":1,"t":"p","g":"grey","x":-3.26,"y":0.62},
    {"r":"Co","c":1,"t":"p","g":"grey","x":-3.2,"y":0.5},
    {"r":"Co","c":1,"t":"p","g":"grey","x":-3.15,"y":0.27},
    {"r":"Co","c":1,"t":"p","g":"grey","x":-3.07,"y":0.16},
    {"r":"Co","c":1,"t":"p","g":"grey","x":-3.0,"y":0.27},
    {"r":"Co","c":1,"t":"p","g":"grey","x":-2.89,"y":0.04},
    {"r":"Co","c":1,"t":"p","g":"grey","x":-2.84,"y":0.21},
    {"r":"Co","c":1,"t":"p","g":"grey","x":-2.74,"y":0.5},
    {"r":"Co","c":1,"t":"p","g":"grey","x":-2.69,"y":0.04},
    {"r":"Co","c":1,"t":"p","g":"grey","x":-2.58,"y":0.16},
    {"r":"Co","c":1,"t":"p","g":"grey","x":-2.53,"y":-0.13},
    {"r":"Co","c":1,"t":"p","g":"grey","x":-2.45,"y":0.79},
    {"r":"Co","c":1,"t":"p","g":"grey","x":-2.42,"y":0.5},
    {"r":"Co","c":1,"t":"p","g":"grey","x":-2.4,"y":-0.19},
    {"r":"Co","c":1,"t":"p","g":"grey","x":-2.32,"y":0.5},
    {"r":"Co","c":1,"t":"p","g":"grey","x":-2.22,"y":0.45},
    {"r":"Co","c":1,"t":"p","g":"grey","x":-2.16,"y":0.56},
    {"r":"Co","c":1,"t":"p","g":"grey","x":-2.06,"y":0.85},
    {"r":"Co","c":1,"t":"p","g":"grey","x":-2.01,"y":0.27},
    {"r":"Co","c":1,"t":"p","g":"grey","x":-1.88,"y":0.1},
    {"r":"Co","c":1,"t":"p","g":"grey","x":-2.63,"y":-0.37},
    {"r":"Co","c":1,"t":"p","g":"grey","x":-3.23,"y":0.1},
    {"r":"Co","c":1,"t":"p","g":"grey","x":-2.27,"y":0.16},
    {"r":"Co","c":1,"t":"p","g":"rx","x":-3.73,"y":0.27},
    {"r":"Co","c":1,"t":"p","g":"rx","x":-3.49,"y":0.1},
    {"r":"Co","c":1,"t":"p","g":"rx","x":-3.44,"y":0.5},
    {"r":"Co","c":1,"t":"p","g":"rx","x":-3.34,"y":0.27},
    {"r":"Co","c":1,"t":"p","g":"rx","x":-3.26,"y":0.16},
    {"r":"Co","c":1,"t":"p","g":"rx","x":-3.18,"y":0.33},
    {"r":"Co","c":1,"t":"p","g":"rx","x":-3.1,"y":0.16},
    {"r":"Co","c":1,"t":"p","g":"rx","x":-3.0,"y":0.21},
    {"r":"Co","c":1,"t":"p","g":"rx","x":-2.89,"y":0.27},
    {"r":"Co","c":1,"t":"p","g":"rx","x":-2.82,"y":0.41},
    {"r":"Co","c":1,"t":"p","g":"rx","x":-2.74,"y":0.27},
    {"r":"Co","c":1,"t":"p","g":"rx","x":-2.69,"y":0.16},
    {"r":"Co","c":1,"t":"p","g":"rx","x":-2.63,"y":0.33},
    {"r":"Co","c":1,"t":"p","g":"rx","x":-2.61,"y":0.56},
    {"r":"Co","c":1,"t":"p","g":"rx","x":-2.55,"y":0.16},
    {"r":"Co","c":1,"t":"p","g":"rx","x":-2.5,"y":0.27},
    {"r":"Co","c":1,"t":"p","g":"rx","x":-2.45,"y":0.21},
    {"r":"Co","c":1,"t":"p","g":"rx","x":-2.4,"y":0.33},
    {"r":"Co","c":1,"t":"p","g":"rx","x":-2.35,"y":0.16},
    {"r":"Co","c":1,"t":"p","g":"rx","x":-2.29,"y":0.27},
    {"r":"Co","c":1,"t":"p","g":"rx","x":-2.24,"y":0.21},
    {"r":"Co","c":1,"t":"p","g":"rx","x":-2.87,"y":-0.54},
    {"r":"Co","c":1,"t":"p","g":"rx","x":-2.81,"y":0.16},
    {"r":"Co","c":1,"t":"p","g":"rx","x":-2.94,"y":0.1},
    {"r":"Co","c":1,"t":"p","g":"green","x":-2.97,"y":0.33},
    {"r":"Co","c":1,"t":"p","g":"green","x":-2.8,"y":-0.02},
    {"r":"Co","c":1,"t":"p","g":"green","x":-2.74,"y":0.31},
    {"r":"Co","c":1,"t":"p","g":"green","x":-2.63,"y":0.19},
    {"r":"Co","c":1,"t":"p","g":"green","x":-2.19,"y":0.27},
    {"r":"Co","c":1,"t":"p","g":"green","x":-2.14,"y":0.16},
    {"r":"Co","c":1,"t":"p","g":"green","x":-2.01,"y":0.1},
    {"r":"Co","c":1,"t":"p","g":"green","x":-2.87,"y":0.21},

    {"r":"Co","c":2,"t":"l","g":"rf","x":-4.2,"y":0.3,"x2":-1.45,"y2":0.16},
    {"r":"Co","c":2,"t":"p","g":"rd","x":-4.12,"y":0.3},
    {"r":"Co","c":2,"t":"p","g":"rd","x":-3.71,"y":0.91},
    {"r":"Co","c":2,"t":"p","g":"rd","x":-3.6,"y":0.71},
    {"r":"Co","c":2,"t":"p","g":"rd","x":-3.07,"y":0.31},
    {"r":"Co","c":2,"t":"p","g":"rd","x":-2.79,"y":0.31},
    {"r":"Co","c":2,"t":"p","g":"rd","x":-2.64,"y":0.02},
    {"r":"Co","c":2,"t":"p","g":"rd","x":-2.55,"y":0.31},
    {"r":"Co","c":2,"t":"p","g":"rd","x":-2.47,"y":0.3},
    {"r":"Co","c":2,"t":"p","g":"rd","x":-2.51,"y":-0.04},
    {"r":"Co","c":2,"t":"p","g":"green","x":-3.01,"y":0.39},

    {"r":"Co","c":3,"t":"l","g":"rf","x":-4.2,"y":0.3,"x2":-1.45,"y2":0.16},
    {"r":"Co","c":3,"t":"l","g":"bb","x":-4.2,"y":0.42,"x2":-1.45,"y2":0.28},
    {"r":"Co","c":3,"t":"l","g":"bb","x":-4.2,"y":0.12,"x2":-1.45,"y2":-0.02},
    {"r":"Co","c":3,"t":"l","g":"bf","x":-4.2,"y":0.27,"x2":-1.45,"y2":0.13},
    {"r":"Co","c":3,"t":"l","g":"bf","x":-4.02,"y":-0.75,"x2":-3.86,"y2":-0.75},
    {"r":"Co","c":3,"t":"l","g":"bf","x":-3.94,"y":-0.85,"x2":-3.94,"y2":-0.65},
    {"r":"Co","c":3,"t":"s","x":-2.825,"y":1.37,"s":"slope = −0.05 ± 0.05; σ = 0.07"},
    {"r":"Co","c":3,"t":"n","x":-1.66,"y":-0.9,"s":"N: 45/71"},
    {"r":"Co","c":3,"t":"p","g":"grey","x":-2.48,"y":0.48},
    {"r":"Co","c":3,"t":"p","g":"grey","x":-2.4,"y":0.21},
    {"r":"Co","c":3,"t":"p","g":"grey","x":-2.27,"y":0.16},
    {"r":"Co","c":3,"t":"p","g":"grey","x":-2.17,"y":0.27},
    {"r":"Co","c":3,"t":"p","g":"grey","x":-1.99,"y":0.33},
    {"r":"Co","c":3,"t":"p","g":"grey","x":-1.83,"y":0.3},
    {"r":"Co","c":3,"t":"p","g":"grey","x":-1.73,"y":0.02},
    {"r":"Co","c":3,"t":"p","g":"grey","x":-1.86,"y":-0.13},
    {"r":"Co","c":3,"t":"p","g":"grey","x":-1.91,"y":0.16},
    {"r":"Co","c":3,"t":"p","g":"grey","x":-2.09,"y":-0.02},
    {"r":"Co","c":3,"t":"p","g":"bx","x":-2.95,"y":0.1},
    {"r":"Co","c":3,"t":"p","g":"bx","x":-2.77,"y":0.12},
    {"r":"Co","c":3,"t":"p","g":"bx","x":-2.66,"y":0.19},
    {"r":"Co","c":3,"t":"p","g":"bx","x":-2.48,"y":0.33},
    {"r":"Co","c":3,"t":"p","g":"bx","x":-2.43,"y":0.27},
    {"r":"Co","c":3,"t":"p","g":"bx","x":-2.35,"y":0.16},
    {"r":"Co","c":3,"t":"p","g":"bx","x":-2.25,"y":0.21},
    {"r":"Co","c":3,"t":"p","g":"bx","x":-2.19,"y":0.1},
    {"r":"Co","c":3,"t":"p","g":"bx","x":-2.14,"y":0.04},
    {"r":"Co","c":3,"t":"p","g":"bx","x":-2.09,"y":0.16},
    {"r":"Co","c":3,"t":"p","g":"bx","x":-2.04,"y":0.21},
    {"r":"Co","c":3,"t":"p","g":"bx","x":-1.99,"y":0.27},
    {"r":"Co","c":3,"t":"p","g":"bx","x":-1.93,"y":0.1},
    {"r":"Co","c":3,"t":"p","g":"bx","x":-1.88,"y":0.04},
    {"r":"Co","c":3,"t":"p","g":"bx","x":-1.83,"y":0.16},
    {"r":"Co","c":3,"t":"p","g":"bx","x":-1.78,"y":-0.02},
    {"r":"Co","c":3,"t":"p","g":"bx","x":-1.73,"y":0.1},
    {"r":"Co","c":3,"t":"p","g":"bx","x":-1.65,"y":0.24},
    {"r":"Co","c":3,"t":"p","g":"bx","x":-2.3,"y":0.04},
    {"r":"Co","c":3,"t":"p","g":"bx","x":-2.12,"y":0.27},

    {"r":"Co","c":4,"t":"l","g":"bf","x":-4.2,"y":0.25,"x2":-1.45,"y2":0.13},
    {"r":"Co","c":4,"t":"p","g":"bd","x":-3.14,"y":0.64},
    {"r":"Co","c":4,"t":"p","g":"bd","x":-2.73,"y":0.85},
    {"r":"Co","c":4,"t":"p","g":"bd","x":-2.54,"y":0.27},
    {"r":"Co","c":4,"t":"p","g":"bd","x":-2.46,"y":0.31},
    {"r":"Co","c":4,"t":"p","g":"bd","x":-2.35,"y":0.06},
    {"r":"Co","c":4,"t":"p","g":"bd","x":-2.29,"y":0.1},
    {"r":"Co","c":4,"t":"p","g":"bd","x":-2.28,"y":0.36},
    {"r":"Co","c":4,"t":"p","g":"bd","x":-2.21,"y":0.16},
    {"r":"Co","c":4,"t":"p","g":"bd","x":-2.17,"y":0.45},
    {"r":"Co","c":4,"t":"p","g":"bd","x":-2.14,"y":0.24},
    {"r":"Co","c":4,"t":"p","g":"bd","x":-2.09,"y":0.21},
    {"r":"Co","c":4,"t":"p","g":"bd","x":-2.19,"y":0.27},
    {"r":"Co","c":4,"t":"p","g":"bd","x":-1.91,"y":-0.08},
    {"r":"Co","c":4,"t":"p","g":"bd","x":-1.54,"y":0.21},
    {"r":"Co","c":4,"t":"p","g":"bd","x":-2.27,"y":0.16},

    {"r":"Ni","c":1,"t":"l","g":"rb","x":-4.2,"y":0.18,"x2":-1.45,"y2":0.03},
    {"r":"Ni","c":1,"t":"l","g":"rb","x":-4.2,"y":-0.06,"x2":-1.45,"y2":-0.21},
    {"r":"Ni","c":1,"t":"l","g":"rf","x":-4.2,"y":0.06,"x2":-1.45,"y2":-0.09},
    {"r":"Ni","c":1,"t":"l","g":"nv","x":-4.2,"y":-0.05,"x2":-1.45,"y2":-0.08},
    {"r":"Ni","c":1,"t":"l","g":"rf","x":-4.07,"y":-0.7,"x2":-3.87,"y2":-0.7},
    {"r":"Ni","c":1,"t":"l","g":"rf","x":-3.97,"y":-0.82,"x2":-3.97,"y2":-0.58},
    {"r":"Ni","c":1,"t":"s","x":-2.825,"y":1.37,"s":"slope = −0.04 ± 0.03; σ = 0.06"},
    {"r":"Ni","c":1,"t":"n","x":-1.66,"y":-0.9,"s":"N: 73/170"},
    {"r":"Ni","c":1,"t":"p","g":"grey","x":-4.05,"y":-0.38},
    {"r":"Ni","c":1,"t":"p","g":"grey","x":-3.62,"y":-0.09},
    {"r":"Ni","c":1,"t":"p","g":"grey","x":-3.6,"y":-0.26},
    {"r":"Ni","c":1,"t":"p","g":"grey","x":-3.54,"y":0.09},
    {"r":"Ni","c":1,"t":"p","g":"grey","x":-3.39,"y":-0.47},
    {"r":"Ni","c":1,"t":"p","g":"grey","x":-3.34,"y":-0.09},
    {"r":"Ni","c":1,"t":"p","g":"grey","x":-3.31,"y":0.26},
    {"r":"Ni","c":1,"t":"p","g":"grey","x":-3.26,"y":0.14},
    {"r":"Ni","c":1,"t":"p","g":"grey","x":-3.18,"y":0.55},
    {"r":"Ni","c":1,"t":"p","g":"grey","x":-3.2,"y":-0.03},
    {"r":"Ni","c":1,"t":"p","g":"grey","x":-3.13,"y":0.03},
    {"r":"Ni","c":1,"t":"p","g":"grey","x":-2.97,"y":0.09},
    {"r":"Ni","c":1,"t":"p","g":"grey","x":-2.87,"y":0.26},
    {"r":"Ni","c":1,"t":"p","g":"grey","x":-2.84,"y":0.38},
    {"r":"Ni","c":1,"t":"p","g":"grey","x":-2.74,"y":0.26},
    {"r":"Ni","c":1,"t":"p","g":"grey","x":-2.69,"y":-0.26},
    {"r":"Ni","c":1,"t":"p","g":"grey","x":-2.61,"y":-0.03},
    {"r":"Ni","c":1,"t":"p","g":"grey","x":-2.53,"y":0.09},
    {"r":"Ni","c":1,"t":"p","g":"grey","x":-2.42,"y":-0.15},
    {"r":"Ni","c":1,"t":"p","g":"grey","x":-2.32,"y":-0.03},
    {"r":"Ni","c":1,"t":"p","g":"grey","x":-2.16,"y":0.03},
    {"r":"Ni","c":1,"t":"p","g":"grey","x":-2.06,"y":-0.09},
    {"r":"Ni","c":1,"t":"p","g":"grey","x":-1.93,"y":-0.01},
    {"r":"Ni","c":1,"t":"p","g":"grey","x":-3.47,"y":0.03},
    {"r":"Ni","c":1,"t":"p","g":"grey","x":-3.52,"y":-0.29},
    {"r":"Ni","c":1,"t":"p","g":"grey","x":-3.67,"y":-0.32},
    {"r":"Ni","c":1,"t":"p","g":"rx","x":-3.74,"y":-0.32},
    {"r":"Ni","c":1,"t":"p","g":"rx","x":-3.52,"y":0.14},
    {"r":"Ni","c":1,"t":"p","g":"rx","x":-3.47,"y":-0.09},
    {"r":"Ni","c":1,"t":"p","g":"rx","x":-3.34,"y":0.18},
    {"r":"Ni","c":1,"t":"p","g":"rx","x":-3.26,"y":-0.09},
    {"r":"Ni","c":1,"t":"p","g":"rx","x":-3.15,"y":-0.01},
    {"r":"Ni","c":1,"t":"p","g":"rx","x":-3.07,"y":0.23},
    {"r":"Ni","c":1,"t":"p","g":"rx","x":-3.0,"y":-0.03},
    {"r":"Ni","c":1,"t":"p","g":"rx","x":-2.92,"y":0.09},
    {"r":"Ni","c":1,"t":"p","g":"rx","x":-2.84,"y":0.03},
    {"r":"Ni","c":1,"t":"p","g":"rx","x":-2.76,"y":0.2},
    {"r":"Ni","c":1,"t":"p","g":"rx","x":-2.69,"y":0.09},
    {"r":"Ni","c":1,"t":"p","g":"rx","x":-2.63,"y":-0.09},
    {"r":"Ni","c":1,"t":"p","g":"rx","x":-2.58,"y":0.14},
    {"r":"Ni","c":1,"t":"p","g":"rx","x":-2.53,"y":-0.03},
    {"r":"Ni","c":1,"t":"p","g":"rx","x":-2.48,"y":0.03},
    {"r":"Ni","c":1,"t":"p","g":"rx","x":-2.42,"y":-0.09},
    {"r":"Ni","c":1,"t":"p","g":"rx","x":-2.37,"y":-0.03},
    {"r":"Ni","c":1,"t":"p","g":"rx","x":-2.27,"y":-0.05},
    {"r":"Ni","c":1,"t":"p","g":"rx","x":-2.19,"y":0.03},
    {"r":"Ni","c":1,"t":"p","g":"rx","x":-2.11,"y":-0.03},
    {"r":"Ni","c":1,"t":"p","g":"rx","x":-2.79,"y":-0.03},
    {"r":"Ni","c":1,"t":"p","g":"rx","x":-2.71,"y":-0.09},
    {"r":"Ni","c":1,"t":"p","g":"rx","x":-2.5,"y":0.23},
    {"r":"Ni","c":1,"t":"p","g":"green","x":-2.97,"y":0.09},
    {"r":"Ni","c":1,"t":"p","g":"green","x":-2.82,"y":0.2},
    {"r":"Ni","c":1,"t":"p","g":"green","x":-2.76,"y":0.11},
    {"r":"Ni","c":1,"t":"p","g":"green","x":-2.71,"y":0.03},
    {"r":"Ni","c":1,"t":"p","g":"green","x":-2.63,"y":-0.03},
    {"r":"Ni","c":1,"t":"p","g":"green","x":-2.16,"y":0.03},
    {"r":"Ni","c":1,"t":"p","g":"green","x":-2.02,"y":-0.09},
    {"r":"Ni","c":1,"t":"p","g":"green","x":-2.87,"y":0.14},

    {"r":"Ni","c":2,"t":"l","g":"rf","x":-4.2,"y":0.06,"x2":-1.45,"y2":-0.07},
    {"r":"Ni","c":2,"t":"p","g":"rd","x":-4.12,"y":0.12},
    {"r":"Ni","c":2,"t":"p","g":"rd","x":-3.6,"y":-0.23},
    {"r":"Ni","c":2,"t":"p","g":"rd","x":-3.07,"y":0.32},
    {"r":"Ni","c":2,"t":"p","g":"rd","x":-2.79,"y":-0.26},
    {"r":"Ni","c":2,"t":"p","g":"rd","x":-2.64,"y":0.05},
    {"r":"Ni","c":2,"t":"p","g":"rd","x":-2.55,"y":0.05},
    {"r":"Ni","c":2,"t":"p","g":"rd","x":-2.51,"y":-0.01},
    {"r":"Ni","c":2,"t":"p","g":"rd","x":-2.47,"y":0.18},
    {"r":"Ni","c":2,"t":"p","g":"green","x":-3.01,"y":-0.09},

    {"r":"Ni","c":3,"t":"l","g":"rf","x":-4.2,"y":0.06,"x2":-1.45,"y2":-0.07},
    {"r":"Ni","c":3,"t":"l","g":"bb","x":-4.2,"y":-0.08,"x2":-1.45,"y2":0.15},
    {"r":"Ni","c":3,"t":"l","g":"bb","x":-4.2,"y":-0.32,"x2":-1.45,"y2":-0.09},
    {"r":"Ni","c":3,"t":"l","g":"bf","x":-4.2,"y":-0.2,"x2":-1.45,"y2":0.03},
    {"r":"Ni","c":3,"t":"l","g":"bf","x":-4.02,"y":-0.73,"x2":-3.86,"y2":-0.73},
    {"r":"Ni","c":3,"t":"l","g":"bf","x":-3.94,"y":-0.83,"x2":-3.94,"y2":-0.63},
    {"r":"Ni","c":3,"t":"s","x":-2.825,"y":1.37,"s":"slope = 0.08 ± 0.05; σ = 0.07"},
    {"r":"Ni","c":3,"t":"n","x":-1.66,"y":-0.9,"s":"N: 47/82"},
    {"r":"Ni","c":3,"t":"p","g":"grey","x":-2.4,"y":-0.12},
    {"r":"Ni","c":3,"t":"p","g":"grey","x":-2.3,"y":0.2},
    {"r":"Ni","c":3,"t":"p","g":"grey","x":-2.19,"y":0.11},
    {"r":"Ni","c":3,"t":"p","g":"grey","x":-1.99,"y":0.14},
    {"r":"Ni","c":3,"t":"p","g":"grey","x":-1.86,"y":-0.09},
    {"r":"Ni","c":3,"t":"p","g":"grey","x":-1.78,"y":-0.32},
    {"r":"Ni","c":3,"t":"p","g":"grey","x":-1.91,"y":-0.24},
    {"r":"Ni","c":3,"t":"p","g":"bx","x":-2.98,"y":-0.07},
    {"r":"Ni","c":3,"t":"p","g":"bx","x":-2.85,"y":-0.38},
    {"r":"Ni","c":3,"t":"p","g":"bx","x":-2.78,"y":0.18},
    {"r":"Ni","c":3,"t":"p","g":"bx","x":-2.66,"y":-0.03},
    {"r":"Ni","c":3,"t":"p","g":"bx","x":-2.48,"y":0.03},
    {"r":"Ni","c":3,"t":"p","g":"bx","x":-2.43,"y":0.26},
    {"r":"Ni","c":3,"t":"p","g":"bx","x":-2.38,"y":0.14},
    {"r":"Ni","c":3,"t":"p","g":"bx","x":-2.33,"y":-0.03},
    {"r":"Ni","c":3,"t":"p","g":"bx","x":-2.27,"y":0.03},
    {"r":"Ni","c":3,"t":"p","g":"bx","x":-2.22,"y":-0.09},
    {"r":"Ni","c":3,"t":"p","g":"bx","x":-2.14,"y":0.09},
    {"r":"Ni","c":3,"t":"p","g":"bx","x":-2.09,"y":-0.03},
    {"r":"Ni","c":3,"t":"p","g":"bx","x":-2.04,"y":0.14},
    {"r":"Ni","c":3,"t":"p","g":"bx","x":-1.99,"y":0.03},
    {"r":"Ni","c":3,"t":"p","g":"bx","x":-1.93,"y":-0.09},
    {"r":"Ni","c":3,"t":"p","g":"bx","x":-1.88,"y":0.09},
    {"r":"Ni","c":3,"t":"p","g":"bx","x":-1.83,"y":-0.03},
    {"r":"Ni","c":3,"t":"p","g":"bx","x":-1.75,"y":-0.01},
    {"r":"Ni","c":3,"t":"p","g":"bx","x":-1.65,"y":0.0},
    {"r":"Ni","c":3,"t":"p","g":"bx","x":-2.19,"y":-0.15},
    {"r":"Ni","c":3,"t":"p","g":"bx","x":-2.12,"y":0.2},

    {"r":"Ni","c":4,"t":"l","g":"bf","x":-4.2,"y":-0.2,"x2":-1.45,"y2":0.03},
    {"r":"Ni","c":4,"t":"p","g":"bd","x":-2.94,"y":0.18},
    {"r":"Ni","c":4,"t":"p","g":"bd","x":-2.72,"y":-0.05},
    {"r":"Ni","c":4,"t":"p","g":"bd","x":-2.43,"y":0.16},
    {"r":"Ni","c":4,"t":"p","g":"bd","x":-2.44,"y":-0.05},
    {"r":"Ni","c":4,"t":"p","g":"bd","x":-2.37,"y":-0.09},
    {"r":"Ni","c":4,"t":"p","g":"bd","x":-2.35,"y":-0.01},
    {"r":"Ni","c":4,"t":"p","g":"bd","x":-2.29,"y":0.09},
    {"r":"Ni","c":4,"t":"p","g":"bd","x":-2.28,"y":-0.09},
    {"r":"Ni","c":4,"t":"p","g":"bd","x":-2.19,"y":-0.12},
    {"r":"Ni","c":4,"t":"p","g":"bd","x":-2.14,"y":-0.03},
    {"r":"Ni","c":4,"t":"p","g":"bd","x":-2.11,"y":0.03},
    {"r":"Ni","c":4,"t":"p","g":"bd","x":-2.09,"y":-0.09},
    {"r":"Ni","c":4,"t":"p","g":"bd","x":-2.08,"y":-0.15},
    {"r":"Ni","c":4,"t":"p","g":"bd","x":-1.91,"y":-0.05},
    {"r":"Ni","c":4,"t":"p","g":"bd","x":-1.54,"y":-0.09},

    {"r":"Zn","c":1,"t":"l","g":"rb","x":-4.2,"y":0.74,"x2":-1.45,"y2":0.16},
    {"r":"Zn","c":1,"t":"l","g":"rb","x":-4.2,"y":0.4,"x2":-1.45,"y2":-0.18},
    {"r":"Zn","c":1,"t":"l","g":"rf","x":-4.2,"y":0.57,"x2":-1.45,"y2":-0.01},
    {"r":"Zn","c":1,"t":"l","g":"nv","x":-4.2,"y":0.52,"x2":-1.45,"y2":-0.19},
    {"r":"Zn","c":1,"t":"l","g":"rf","x":-4.07,"y":-0.66,"x2":-3.87,"y2":-0.66},
    {"r":"Zn","c":1,"t":"l","g":"rf","x":-3.97,"y":-0.78,"x2":-3.97,"y2":-0.54},
    {"r":"Zn","c":1,"t":"s","x":-2.825,"y":1.37,"s":"slope = −0.23 ± 0.04; σ = 0.08"},
    {"r":"Zn","c":1,"t":"n","x":-1.66,"y":-0.9,"s":"N: 65/118"},
    {"r":"Zn","c":1,"t":"p","g":"grey","x":-3.31,"y":0.92},
    {"r":"Zn","c":1,"t":"p","g":"grey","x":-3.23,"y":0.66},
    {"r":"Zn","c":1,"t":"p","g":"grey","x":-2.95,"y":0.81},
    {"r":"Zn","c":1,"t":"p","g":"grey","x":-2.74,"y":0.77},
    {"r":"Zn","c":1,"t":"p","g":"grey","x":-2.84,"y":0.66},
    {"r":"Zn","c":1,"t":"p","g":"grey","x":-3.41,"y":0.48},
    {"r":"Zn","c":1,"t":"p","g":"grey","x":-3.05,"y":0.48},
    {"r":"Zn","c":1,"t":"p","g":"grey","x":-2.89,"y":0.36},
    {"r":"Zn","c":1,"t":"p","g":"grey","x":-2.79,"y":0.31},
    {"r":"Zn","c":1,"t":"p","g":"grey","x":-2.69,"y":0.25},
    {"r":"Zn","c":1,"t":"p","g":"grey","x":-2.58,"y":0.36},
    {"r":"Zn","c":1,"t":"p","g":"grey","x":-2.45,"y":0.31},
    {"r":"Zn","c":1,"t":"p","g":"grey","x":-2.35,"y":0.25},
    {"r":"Zn","c":1,"t":"p","g":"grey","x":-2.27,"y":0.02},
    {"r":"Zn","c":1,"t":"p","g":"grey","x":-2.14,"y":0.4},
    {"r":"Zn","c":1,"t":"p","g":"grey","x":-1.93,"y":0.31},
    {"r":"Zn","c":1,"t":"p","g":"grey","x":-2.03,"y":0.07},
    {"r":"Zn","c":1,"t":"p","g":"grey","x":-3.15,"y":0.31},
    {"r":"Zn","c":1,"t":"p","g":"grey","x":-3.28,"y":0.36},
    {"r":"Zn","c":1,"t":"p","g":"rx","x":-3.49,"y":0.4},
    {"r":"Zn","c":1,"t":"p","g":"rx","x":-3.26,"y":0.31},
    {"r":"Zn","c":1,"t":"p","g":"rx","x":-3.23,"y":0.13},
    {"r":"Zn","c":1,"t":"p","g":"rx","x":-3.1,"y":0.48},
    {"r":"Zn","c":1,"t":"p","g":"rx","x":-3.05,"y":0.31},
    {"r":"Zn","c":1,"t":"p","g":"rx","x":-2.9,"y":0.54},
    {"r":"Zn","c":1,"t":"p","g":"rx","x":-2.87,"y":0.36},
    {"r":"Zn","c":1,"t":"p","g":"rx","x":-2.82,"y":0.25},
    {"r":"Zn","c":1,"t":"p","g":"rx","x":-2.76,"y":0.42},
    {"r":"Zn","c":1,"t":"p","g":"rx","x":-2.69,"y":0.31},
    {"r":"Zn","c":1,"t":"p","g":"rx","x":-2.63,"y":0.13},
    {"r":"Zn","c":1,"t":"p","g":"rx","x":-2.58,"y":0.25},
    {"r":"Zn","c":1,"t":"p","g":"rx","x":-2.53,"y":0.36},
    {"r":"Zn","c":1,"t":"p","g":"rx","x":-2.48,"y":0.19},
    {"r":"Zn","c":1,"t":"p","g":"rx","x":-2.42,"y":0.31},
    {"r":"Zn","c":1,"t":"p","g":"rx","x":-2.37,"y":0.25},
    {"r":"Zn","c":1,"t":"p","g":"rx","x":-2.32,"y":0.19},
    {"r":"Zn","c":1,"t":"p","g":"rx","x":-2.27,"y":0.31},
    {"r":"Zn","c":1,"t":"p","g":"rx","x":-2.74,"y":0.48},
    {"r":"Zn","c":1,"t":"p","g":"rx","x":-2.97,"y":0.25},
    {"r":"Zn","c":1,"t":"p","g":"rx","x":-2.84,"y":0.07},
    {"r":"Zn","c":1,"t":"p","g":"green","x":-2.63,"y":0.22},
    {"r":"Zn","c":1,"t":"p","g":"green","x":-2.14,"y":0.22},
    {"r":"Zn","c":1,"t":"p","g":"green","x":-2.01,"y":0.07},

    {"r":"Zn","c":2,"t":"l","g":"rf","x":-4.2,"y":0.57,"x2":-1.45,"y2":-0.04},
    {"r":"Zn","c":2,"t":"p","g":"rd","x":-2.64,"y":0.27},
    {"r":"Zn","c":2,"t":"p","g":"rd","x":-2.55,"y":0.13},
    {"r":"Zn","c":2,"t":"p","g":"rd","x":-2.51,"y":0.36},
    {"r":"Zn","c":2,"t":"p","g":"rd","x":-2.47,"y":0.43},

    {"r":"Zn","c":3,"t":"l","g":"rf","x":-4.2,"y":0.57,"x2":-1.45,"y2":-0.01},
    {"r":"Zn","c":3,"t":"l","g":"bb","x":-4.2,"y":0.95,"x2":-1.45,"y2":0.15},
    {"r":"Zn","c":3,"t":"l","g":"bb","x":-4.2,"y":0.62,"x2":-1.45,"y2":-0.18},
    {"r":"Zn","c":3,"t":"l","g":"bf","x":-4.2,"y":0.79,"x2":-1.45,"y2":-0.01},
    {"r":"Zn","c":3,"t":"l","g":"bf","x":-4.02,"y":-0.73,"x2":-3.86,"y2":-0.73},
    {"r":"Zn","c":3,"t":"l","g":"bf","x":-3.94,"y":-0.83,"x2":-3.94,"y2":-0.63},
    {"r":"Zn","c":3,"t":"s","x":-2.825,"y":1.37,"s":"slope = −0.29 ± 0.10; σ = 0.07"},
    {"r":"Zn","c":3,"t":"n","x":-1.66,"y":-0.9,"s":"N: 26/37"},
    {"r":"Zn","c":3,"t":"p","g":"grey","x":-2.17,"y":0.48},
    {"r":"Zn","c":3,"t":"p","g":"grey","x":-2.12,"y":0.36},
    {"r":"Zn","c":3,"t":"p","g":"grey","x":-1.88,"y":0.42},
    {"r":"Zn","c":3,"t":"p","g":"grey","x":-1.96,"y":0.19},
    {"r":"Zn","c":3,"t":"p","g":"grey","x":-1.8,"y":0.25},
    {"r":"Zn","c":3,"t":"p","g":"grey","x":-1.67,"y":0.25},
    {"r":"Zn","c":3,"t":"p","g":"bx","x":-2.43,"y":0.31},
    {"r":"Zn","c":3,"t":"p","g":"bx","x":-2.38,"y":0.36},
    {"r":"Zn","c":3,"t":"p","g":"bx","x":-2.33,"y":0.31},
    {"r":"Zn","c":3,"t":"p","g":"bx","x":-2.17,"y":0.36},
    {"r":"Zn","c":3,"t":"p","g":"bx","x":-2.12,"y":0.19},
    {"r":"Zn","c":3,"t":"p","g":"bx","x":-2.06,"y":0.31},
    {"r":"Zn","c":3,"t":"p","g":"bx","x":-2.01,"y":-0.04},
    {"r":"Zn","c":3,"t":"p","g":"bx","x":-1.99,"y":0.13},
    {"r":"Zn","c":3,"t":"p","g":"bx","x":-1.93,"y":0.25},
    {"r":"Zn","c":3,"t":"p","g":"bx","x":-1.88,"y":0.19},
    {"r":"Zn","c":3,"t":"p","g":"bx","x":-1.83,"y":0.31},
    {"r":"Zn","c":3,"t":"p","g":"bx","x":-1.78,"y":0.13},
    {"r":"Zn","c":3,"t":"p","g":"bx","x":-1.73,"y":0.25},
    {"r":"Zn","c":3,"t":"p","g":"bx","x":-1.67,"y":0.19},
    {"r":"Zn","c":3,"t":"p","g":"bx","x":-1.65,"y":0.07},
    {"r":"Zn","c":3,"t":"p","g":"bx","x":-2.25,"y":0.25},

    {"r":"Zn","c":4,"t":"l","g":"bf","x":-4.2,"y":0.79,"x2":-1.45,"y2":-0.01},
    {"r":"Zn","c":4,"t":"p","g":"bd","x":-2.35,"y":0.28},
    {"r":"Zn","c":4,"t":"p","g":"bd","x":-2.28,"y":0.13},
    {"r":"Zn","c":4,"t":"p","g":"bd","x":-2.19,"y":0.31},
    {"r":"Zn","c":4,"t":"p","g":"bd","x":-2.08,"y":0.22},
    {"r":"Zn","c":4,"t":"p","g":"bd","x":-1.53,"y":-0.04}
  ]},
  "facet": {
    "row": {
      "field": "r",
      "type": "nominal",
      "sort": ["V", "Cr", "Mn", "Co", "Ni", "Zn"],
      "header": {
        "title": null,
        "labelExpr": "'[' + datum.value + '/Fe]'",
        "labelAngle": -90,
        "labelOrient": "left",
        "labelFont": "Liberation Serif, Times New Roman, serif",
        "labelFontSize": 13,
        "labelColor": "black",
        "labelPadding": 0
      }
    },
    "column": {"field": "c", "type": "ordinal", "header": null}
  },
  "spacing": {"row": 0, "column": 0},
  "bounds": "flush",
  "spec": {
    "width": 176,
    "height": 98,
    "encoding": {
      "x": {
        "field": "x",
        "type": "quantitative",
        "scale": {"domain": [-4.2, -1.45], "nice": false, "zero": false},
        "axis": {
          "title": null,
          "values": [-4.1, -4, -3.9, -3.8, -3.7, -3.6, -3.5, -3.4, -3.3, -3.2, -3.1, -3, -2.9, -2.8, -2.7, -2.6, -2.5, -2.4, -2.3, -2.2, -2.1, -2, -1.9, -1.8, -1.7, -1.6, -1.5],
          "domain": false,
          "ticks": false,
          "grid": true,
          "gridColor": "black",
          "gridOpacity": 1,
          "gridWidth": 1,
          "gridDash": {"condition": {"test": "datum.value % 1 === 0", "value": [5, 88, 5, 0]}, "value": [2.5, 93, 2.5, 0]},
          "labelExpr": "datum.value % 1 === 0 ? format(datum.value, 'd') : ''",
          "labelFont": "Liberation Serif, Times New Roman, serif",
          "labelFontSize": 13,
          "labelColor": "black",
          "labelPadding": 6,
          "labelFlush": false,
          "labelOverlap": false
        }
      },
      "y": {
        "field": "y",
        "type": "quantitative",
        "scale": {"domain": [-1.2, 2.2], "nice": false, "zero": false},
        "axis": {
          "title": null,
          "values": [-1, -0.8, -0.6, -0.4, -0.2, 0, 0.2, 0.4, 0.6, 0.8, 1, 1.2, 1.4, 1.6, 1.8, 2],
          "domain": false,
          "ticks": false,
          "grid": true,
          "gridColor": "black",
          "gridOpacity": 1,
          "gridWidth": 1,
          "gridDash": {"condition": {"test": "datum.value % 1 === 0", "value": [5, 166, 5, 0]}, "value": [2.5, 171, 2.5, 0]},
          "labelExpr": "datum.value % 1 === 0 ? format(datum.value, 'd') : ''",
          "labelOffset": {"condition": [{"test": "datum.value === 2", "value": 1}, {"test": "datum.value === -1", "value": -1}], "value": 0},
          "labelFont": "Liberation Serif, Times New Roman, serif",
          "labelFontSize": 12.5,
          "labelColor": "black",
          "labelPadding": 4,
          "labelFlush": false,
          "labelOverlap": false
        }
      }
    },
    "layer": [
      {
        "transform": [{"filter": "datum.t == 'l'"}],
        "mark": {"type": "rule", "strokeWidth": 1.1},
        "encoding": {
          "x2": {"field": "x2"},
          "y2": {"field": "y2"},
          "color": {
            "field": "g", "type": "nominal", "legend": null,
            "scale": {
              "domain": ["rf", "rb", "bf", "bb", "nv", "grey", "rx", "bx", "green", "rd", "bd"],
              "range": ["#ff3030", "#ff3030", "#1414ff", "#1414ff", "#000080", "#8a8a8a", "#ff0000", "#0000ff", "#22e022", "#ff0000", "#0000ff"]
            }
          },
          "strokeDash": {
            "field": "g", "type": "nominal", "legend": null,
            "scale": {
              "domain": ["rf", "rb", "bf", "bb", "nv"],
              "range": [[1, 0], [1.5, 2.5], [1, 0], [1.5, 2.5], [7, 4]]
            }
          }
        }
      },
      {
        "transform": [{"filter": "datum.t == 'p' && (datum.g == 'grey' || datum.g == 'rx' || datum.g == 'bx')"}],
        "mark": {"type": "point", "filled": false, "size": 60, "strokeWidth": 0.9, "opacity": 1},
        "encoding": {
          "color": {
            "field": "g", "type": "nominal", "legend": null,
            "scale": {
              "domain": ["rf", "rb", "bf", "bb", "nv", "grey", "rx", "bx", "green", "rd", "bd"],
              "range": ["#ff3030", "#ff3030", "#1414ff", "#1414ff", "#000080", "#8a8a8a", "#ff0000", "#0000ff", "#22e022", "#ff0000", "#0000ff"]
            }
          },
          "shape": {
            "field": "g", "type": "nominal", "legend": null,
            "scale": {
              "domain": ["grey", "rx", "bx"],
              "range": ["circle", "M-0.7,-0.7H0.7V0.7H-0.7Z M-0.7,-0.7L0.7,0.7 M-0.7,0.7L0.7,-0.7", "M-0.7,-0.7H0.7V0.7H-0.7Z M-0.7,-0.7L0.7,0.7 M-0.7,0.7L0.7,-0.7"]
            }
          }
        }
      },
      {
        "transform": [{"filter": "datum.t == 'p' && (datum.g == 'green' || datum.g == 'rd' || datum.g == 'bd')"}],
        "mark": {"type": "point", "filled": true, "shape": "circle", "size": 56, "opacity": 1},
        "encoding": {
          "color": {
            "field": "g", "type": "nominal", "legend": null,
            "scale": {
              "domain": ["rf", "rb", "bf", "bb", "nv", "grey", "rx", "bx", "green", "rd", "bd"],
              "range": ["#ff3030", "#ff3030", "#1414ff", "#1414ff", "#000080", "#8a8a8a", "#ff0000", "#0000ff", "#22e022", "#ff0000", "#0000ff"]
            }
          }
        }
      },
      {
        "transform": [{"filter": "datum.t == 's'"}],
        "mark": {"type": "text", "align": "center", "baseline": "alphabetic", "font": "Liberation Serif, Times New Roman, serif", "fontSize": 12.5, "color": "black"},
        "encoding": {"text": {"field": "s"}}
      },
      {
        "transform": [{"filter": "datum.t == 'n'"}],
        "mark": {"type": "text", "align": "right", "baseline": "alphabetic", "font": "Liberation Serif, Times New Roman, serif", "fontSize": 12.5, "color": "black"},
        "encoding": {"text": {"field": "s"}}
      }
    ]
  },
  "title": {
    "text": "[Fe/H]",
    "orient": "bottom",
    "anchor": "middle",
    "font": "Liberation Serif, Times New Roman, serif",
    "fontSize": 16.5,
    "fontWeight": "normal",
    "color": "black",
    "offset": 8,
    "dx": 24
  },
  "config": {
    "font": "Liberation Serif, Times New Roman, serif",
    "view": {"stroke": "black", "strokeWidth": 1}
  }
}
